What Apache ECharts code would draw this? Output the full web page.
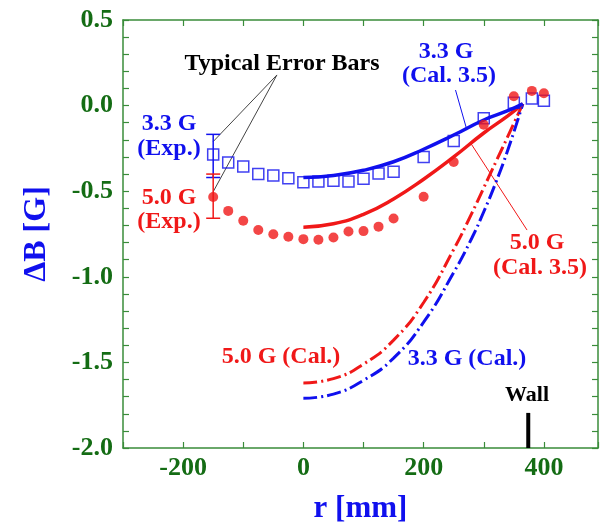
<!DOCTYPE html>
<html>
<head>
<meta charset="utf-8">
<title>dB vs r</title>
<script src="https://cdn.jsdelivr.net/npm/echarts@6.0.0/dist/echarts.min.js"></script>
<style>
  html, body { margin: 0; padding: 0; background: #fff; }
  #chart { width: 604px; height: 524px; }
</style>
</head>
<body>
<div id="chart"></div>
<script>
// measured points (r in mm, dB in G)
const expR = [-150, -125, -100, -75, -50, -25, 0, 25, 50, 75, 100, 125, 150, 200, 250, 300, 350, 380, 400]
const exp33 = [-0.285, -0.333, -0.355, -0.400, -0.408, -0.424, -0.447, -0.443, -0.439, -0.443, -0.427, -0.396, -0.386, -0.300, -0.207, -0.074, 0.017, 0.042, 0.029]
const exp50 = [-0.534, -0.615, -0.673, -0.727, -0.751, -0.766, -0.780, -0.784, -0.770, -0.735, -0.733, -0.707, -0.659, -0.532, -0.329, -0.112, 0.055, 0.086, 0.072]

// calculation 3.5 (solid)
const cal35R = [0, 50, 100, 150, 200, 250, 300, 340, 365]
const cal35_33 = [-0.42, -0.408, -0.378, -0.328, -0.255, -0.172, -0.084, -0.03, 0.01]
const cal35_50 = [-0.71, -0.69, -0.635, -0.545, -0.43, -0.30, -0.16, -0.06, 0.01]

// calculation (dash-dot)
const calR = [0, 50, 100, 150, 200, 250, 280, 300, 320, 340, 365]
const cal50 = [-1.62, -1.595, -1.51, -1.37, -1.15, -0.84, -0.63, -0.48, -0.33, -0.18, 0.01]
const cal33 = [-1.71, -1.685, -1.605, -1.475, -1.265, -0.975, -0.775, -0.62, -0.45, -0.26, 0.01]

// typical error bars: [r, top, bottom]
const errBars = [[-150, -0.168, -0.42], [-150, -0.40, -0.658]]

// wall position
const wallR = 374
const wallLine = [[wallR, -2.0], [wallR, -1.795]]

// leader lines for the labels
const leadErr1 = [[-44, 0.179], [-150, -0.21]]
const leadErr2 = [[-44, 0.179], [-150, -0.503]]
const leadBlue = [[253, 0.091], [272, -0.143]]
const leadRed = [[278, -0.218], [372, -0.727]]

const xLabelStep = 200

const BLUE = '#1010ee'
const RED = '#f01818'
const AXIS = '#3a8c3a'
const LABEL = '#146c14'
const FONT = '"Liberation Serif", "Times New Roman", serif'

function pairs(xs, ys) {
  return xs.map((x, i) => [x, ys[i]])
}

const chart = echarts.init(document.getElementById('chart'))

const tickStyle = { color: AXIS, width: 1.2 }
const labelStyle = { color: LABEL, fontSize: 26, fontWeight: 'bold', fontFamily: FONT }

function leader(data, color) {
  return {
    type: 'line', data: data, showSymbol: false, silent: true, z: 1,
    lineStyle: { color: color, width: 1 }
  }
}

chart.setOption({
  animation: false,
  grid: { left: 123, right: 6, top: 20, bottom: 76, outerBoundsMode: 'none' },
  xAxis: [{
    type: 'value', min: -300, max: 490, interval: 100, position: 'bottom',
    name: 'r [mm]', nameLocation: 'middle', nameGap: 45,
    nameTextStyle: { color: BLUE, fontSize: 31, fontWeight: 'bold', fontFamily: FONT },
    axisLine: { onZero: false, lineStyle: { color: AXIS, width: 1.5 } },
    axisTick: { inside: true, length: 6, lineStyle: tickStyle },
    axisLabel: {
      margin: 7, ...labelStyle,
      formatter: v => (v % xLabelStep === 0 ? String(v) : '')
    },
    splitLine: { show: false }
  }, {
    type: 'value', min: -300, max: 490, interval: 100, position: 'top',
    axisLine: { onZero: false, lineStyle: { color: AXIS, width: 1.5 } },
    axisTick: { inside: true, length: 6, lineStyle: tickStyle },
    axisLabel: { show: false },
    splitLine: { show: false }
  }],
  yAxis: [{
    type: 'value', min: -2.0, max: 0.5, interval: 0.5, position: 'left',
    name: 'ΔB [G]', nameLocation: 'middle', nameGap: 70, nameRotate: 90,
    nameTextStyle: { color: BLUE, fontSize: 32, fontWeight: 'bold', fontFamily: FONT },
    axisLine: { show: true, onZero: false, lineStyle: { color: AXIS, width: 1.5 } },
    axisTick: { show: true, inside: true, length: 6, lineStyle: tickStyle },
    minorTick: { show: true, splitNumber: 5, length: 6, lineStyle: tickStyle },
    axisLabel: { margin: 10, ...labelStyle, formatter: v => v.toFixed(1) },
    splitLine: { show: false }
  }, {
    type: 'value', min: -2.0, max: 0.5, interval: 0.5, position: 'right',
    axisLine: { show: true, onZero: false, lineStyle: { color: AXIS, width: 1.5 } },
    axisTick: { show: true, inside: true, length: 6, lineStyle: tickStyle },
    minorTick: { show: true, splitNumber: 5, length: 6, lineStyle: tickStyle },
    axisLabel: { show: false },
    splitLine: { show: false }
  }],
  series: [
    leader(leadErr1, '#444'),
    leader(leadErr2, '#444'),
    leader(leadBlue, BLUE),
    leader(leadRed, RED),
    {
      name: '5.0 G (Cal.)', type: 'line', data: pairs(calR, cal50), smooth: 0.5,
      showSymbol: false, z: 2,
      lineStyle: { color: RED, width: 3, type: [14, 4, 2, 4] }
    },
    {
      name: '3.3 G (Cal.)', type: 'line', data: pairs(calR, cal33), smooth: 0.5,
      showSymbol: false, z: 2,
      lineStyle: { color: BLUE, width: 3, type: [14, 4, 2, 4] }
    },
    {
      name: '5.0 G (Cal. 3.5)', type: 'line', data: pairs(cal35R, cal35_50), smooth: 0.5,
      showSymbol: false, z: 2,
      lineStyle: { color: RED, width: 3.5 }
    },
    {
      name: '3.3 G (Cal. 3.5)', type: 'line', data: pairs(cal35R, cal35_33), smooth: 0.5,
      showSymbol: false, z: 2,
      lineStyle: { color: BLUE, width: 3.5 }
    },
    {
      name: '3.3 G (Exp.)', type: 'scatter', data: pairs(expR, exp33), z: 3,
      symbol: 'rect', symbolSize: 11,
      itemStyle: { color: 'rgba(255,255,255,0)', borderColor: BLUE, borderWidth: 1.5 }
    },
    {
      name: '5.0 G (Exp.)', type: 'scatter', data: pairs(expR, exp50), z: 3,
      symbol: 'circle', symbolSize: 10,
      itemStyle: { color: RED }
    },
    {
      name: 'error bars', type: 'custom', data: errBars, z: 3,
      renderItem: (params, api) => {
        const r = api.value(0)
        const top = api.coord([r, api.value(1)])
        const bot = api.coord([r, api.value(2)])
        const c = params.dataIndex === 0 ? BLUE : RED
        const st = { stroke: c, lineWidth: 1.5 }
        return {
          type: 'group',
          children: [
            { type: 'line', shape: { x1: top[0], y1: top[1], x2: bot[0], y2: bot[1] }, style: st },
            { type: 'line', shape: { x1: top[0] - 7, y1: top[1], x2: top[0] + 7, y2: top[1] }, style: st },
            { type: 'line', shape: { x1: bot[0] - 7, y1: bot[1], x2: bot[0] + 7, y2: bot[1] }, style: st }
          ]
        }
      }
    },
    {
      name: 'Wall', type: 'line', data: wallLine, showSymbol: false, z: 4,
      lineStyle: { color: '#000', width: 4 }
    }
  ],
  graphic: [
    { type: 'text', x: 282, y: 64, style: { text: 'Typical Error Bars', fill: '#000', font: 'bold 24px ' + FONT, align: 'center', verticalAlign: 'middle' } },
    { type: 'text', x: 169, y: 124, style: { text: '3.3 G', fill: BLUE, font: 'bold 24px ' + FONT, align: 'center', verticalAlign: 'middle' } },
    { type: 'text', x: 169, y: 149, style: { text: '(Exp.)', fill: BLUE, font: 'bold 24px ' + FONT, align: 'center', verticalAlign: 'middle' } },
    { type: 'text', x: 169, y: 198, style: { text: '5.0 G', fill: RED, font: 'bold 24px ' + FONT, align: 'center', verticalAlign: 'middle' } },
    { type: 'text', x: 169, y: 222, style: { text: '(Exp.)', fill: RED, font: 'bold 24px ' + FONT, align: 'center', verticalAlign: 'middle' } },
    { type: 'text', x: 446, y: 52, style: { text: '3.3 G', fill: BLUE, font: 'bold 24px ' + FONT, align: 'center', verticalAlign: 'middle' } },
    { type: 'text', x: 449, y: 76, style: { text: '(Cal. 3.5)', fill: BLUE, font: 'bold 24px ' + FONT, align: 'center', verticalAlign: 'middle' } },
    { type: 'text', x: 537, y: 243, style: { text: '5.0 G', fill: RED, font: 'bold 24px ' + FONT, align: 'center', verticalAlign: 'middle' } },
    { type: 'text', x: 540, y: 268, style: { text: '(Cal. 3.5)', fill: RED, font: 'bold 24px ' + FONT, align: 'center', verticalAlign: 'middle' } },
    { type: 'text', x: 281, y: 357, style: { text: '5.0 G (Cal.)', fill: RED, font: 'bold 24px ' + FONT, align: 'center', verticalAlign: 'middle' } },
    { type: 'text', x: 467, y: 359, style: { text: '3.3 G (Cal.)', fill: BLUE, font: 'bold 24px ' + FONT, align: 'center', verticalAlign: 'middle' } },
    { type: 'text', x: 527, y: 395, style: { text: 'Wall', fill: '#000', font: 'bold 22px ' + FONT, align: 'center', verticalAlign: 'middle' } }
  ]
})
</script>
</body>
</html>
